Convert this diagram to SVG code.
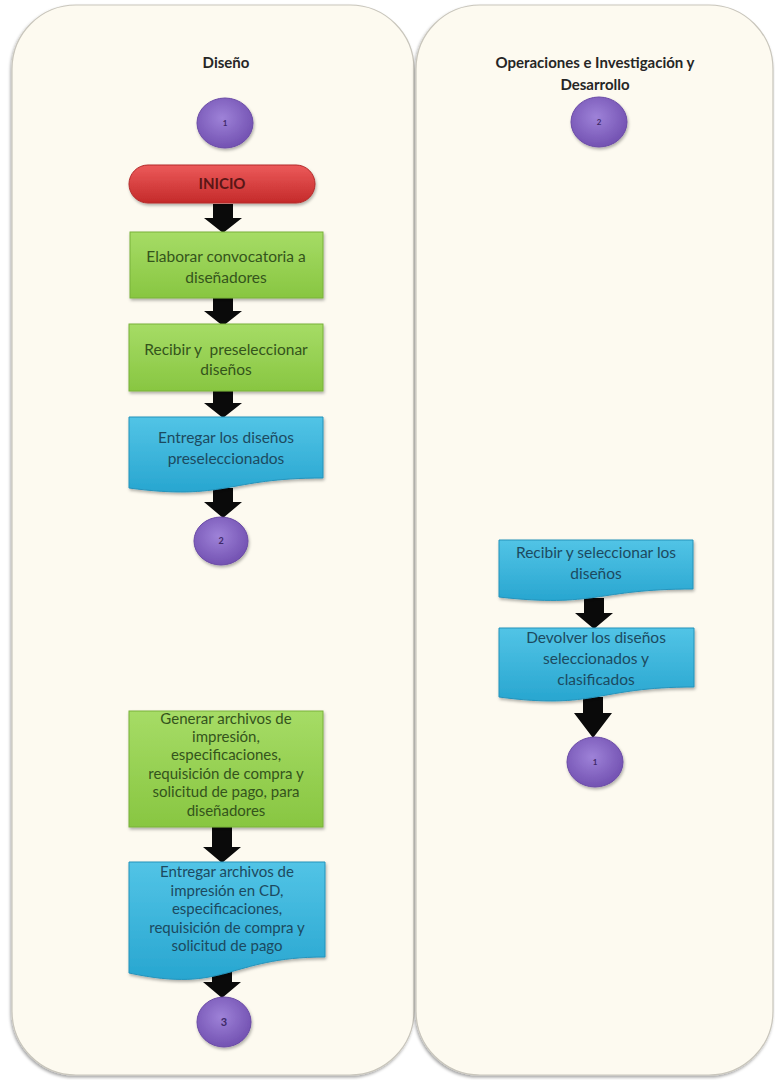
<svg xmlns="http://www.w3.org/2000/svg" width="775" height="1080" viewBox="0 0 775 1080">
<defs>
<linearGradient id="gGreen" x1="0" y1="0" x2="0" y2="1"><stop offset="0" stop-color="#a6dc66"/><stop offset="1" stop-color="#88c641"/></linearGradient>
<linearGradient id="gBlue" x1="0" y1="0" x2="0" y2="1"><stop offset="0" stop-color="#52c4e6"/><stop offset="1" stop-color="#28a6d0"/></linearGradient>
<linearGradient id="gRed" x1="0" y1="0" x2="0" y2="1"><stop offset="0" stop-color="#ec5a5a"/><stop offset="1" stop-color="#c42a2a"/></linearGradient>
<radialGradient id="gPurple" cx="0.45" cy="0.4" r="0.6"><stop offset="0" stop-color="#9e82d8"/><stop offset="1" stop-color="#7352b2"/></radialGradient>
<filter id="laneShadow" x="-5%" y="-5%" width="110%" height="110%"><feDropShadow dx="-1" dy="2" stdDeviation="1.5" flood-color="#000" flood-opacity="0.35"/></filter>
<filter id="shapeShadow" x="-10%" y="-10%" width="120%" height="130%"><feDropShadow dx="1" dy="2" stdDeviation="1.5" flood-color="#000" flood-opacity="0.3"/></filter>
</defs>
<style>
.lane{fill:#fdfaf0;stroke:#c9c6bc;stroke-width:1.2;filter:url(#laneShadow)}
.title{font-family:Lato,"Liberation Sans",sans-serif;font-weight:bold;font-size:15px;fill:#262626;text-anchor:middle}
.green{fill:url(#gGreen);stroke:#79b23a;stroke-width:1;filter:url(#shapeShadow)}
.blue{fill:url(#gBlue);stroke:#2593bb;stroke-width:1;filter:url(#shapeShadow)}
.red{fill:url(#gRed);stroke:#b32a2a;stroke-width:1;filter:url(#shapeShadow)}
.circ{fill:url(#gPurple);stroke:#6a4aa6;stroke-width:1;filter:url(#shapeShadow)}
.t{font-family:Lato,"Liberation Sans",sans-serif;font-size:15.5px;text-anchor:middle}
.ts{font-family:Lato,"Liberation Sans",sans-serif;font-size:15px;text-anchor:middle}
.tg{fill:#34541c}
.tb{fill:#1c4a60}
.tr{fill:#5a1616;font-family:Lato,"Liberation Sans",sans-serif;font-weight:bold;font-size:15px;text-anchor:middle}
.num{font-family:Lato,"Liberation Sans",sans-serif;font-weight:bold;fill:#3e2968;text-anchor:middle}
.arrow{fill:#0a0a0a}
</style>

<g id="lane-diseno">
<rect class="lane" x="12" y="5" width="402" height="1070" rx="64" ry="64"/>
<text class="title" x="226" y="68">Diseño</text>
</g>
<g id="lane-operaciones">
<rect class="lane" x="416" y="5" width="357" height="1070" rx="64" ry="64"/>
<text class="title" x="595" y="68">Operaciones e Investigación y</text>
<text class="title" x="595" y="90">Desarrollo</text>
</g>

<g id="connectors">
<path class="arrow" d="M213,204 H233 V218 H242 L223,233 L204,218 H213 Z"/>
<path class="arrow" d="M213,298 H233 V311 H242 L223,326 L204,311 H213 Z"/>
<path class="arrow" d="M213,391 H233 V403 H242 L223,418 L204,403 H213 Z"/>
<path class="arrow" d="M213,488 H233 V502 H242 L223,518 L204,502 H213 Z"/>
<path class="arrow" d="M212,827 H232 V847 H241 L222,863 L203,847 H212 Z"/>
<path class="arrow" d="M212,965 H232 V982 H241 L222,998 L203,982 H212 Z"/>
<path class="arrow" d="M584,598 H604 V613 H613 L594,629 L575,613 H584 Z"/>
<path class="arrow" d="M583,697 H603 V713 H612 L593,738 L574,713 H583 Z"/>
</g>

<g id="c1-top">
<ellipse class="circ" cx="225" cy="123" rx="28" ry="25"/>
<text class="num" x="225" y="126" font-size="8">1</text>
</g>
<g id="inicio">
<rect class="red" x="129" y="165" width="186" height="38" rx="19" ry="19"/>
<text class="tr" x="222" y="189">INICIO</text>
</g>
<g id="elaborar">
<rect class="green" x="130" y="232" width="193" height="66"/>
<text class="t tg" x="226" y="262">Elaborar convocatoria a</text>
<text class="t tg" x="226" y="283">diseñadores</text>
</g>
<g id="recibir-pre">
<rect class="green" x="129" y="324" width="194" height="67"/>
<text class="t tg" x="226" y="355" xml:space="preserve">Recibir y  preseleccionar</text>
<text class="t tg" x="226" y="375">diseños</text>
</g>
<g id="entregar-pre">
<path class="blue" d="M129,417 H323 V478 C226,478 226,501 129,488 Z"/>
<text class="t tb" x="226" y="443">Entregar los diseños</text>
<text class="t tb" x="226" y="464">preseleccionados</text>
</g>
<g id="c2-left">
<ellipse class="circ" cx="221" cy="541" rx="27" ry="24"/>
<text class="num" x="221" y="544" font-size="9">2</text>
</g>
<g id="generar">
<rect class="green" x="129" y="711" width="194" height="116"/>
<text class="ts tg" x="226" y="724">Generar archivos de</text>
<text class="ts tg" x="226" y="742">impresión,</text>
<text class="ts tg" x="226" y="760">especificaciones,</text>
<text class="ts tg" x="226" y="779">requisición de compra y</text>
<text class="ts tg" x="226" y="797">solicitud de pago, para</text>
<text class="ts tg" x="226" y="816">diseñadores</text>
</g>
<g id="entregar-cd">
<path class="blue" d="M129,862 H325 V957 C227,957 227,994 129,973 Z"/>
<text class="ts tb" x="227" y="877">Entregar archivos de</text>
<text class="ts tb" x="227" y="896">impresión en CD,</text>
<text class="ts tb" x="227" y="914">especificaciones,</text>
<text class="ts tb" x="227" y="933">requisición de compra y</text>
<text class="ts tb" x="227" y="951">solicitud de pago</text>
</g>
<g id="c3">
<ellipse class="circ" cx="224" cy="1022" rx="27" ry="25"/>
<text class="num" x="224" y="1026" font-size="11">3</text>
</g>

<g id="c2-right">
<ellipse class="circ" cx="599" cy="122" rx="28" ry="25"/>
<text class="num" x="599" y="125" font-size="8">2</text>
</g>
<g id="recibir-sel">
<path class="blue" d="M499,540 H693 V589 C596,589 596,608 499,597 Z"/>
<text class="t tb" x="596" y="558">Recibir y seleccionar los</text>
<text class="t tb" x="596" y="579">diseños</text>
</g>
<g id="devolver">
<path class="blue" d="M499,628 H694 V687 C596,687 596,710 499,697 Z"/>
<text class="t tb" x="596" y="643">Devolver los diseños</text>
<text class="t tb" x="596" y="664">seleccionados y</text>
<text class="t tb" x="596" y="685">clasificados</text>
</g>
<g id="c1-right">
<ellipse class="circ" cx="595" cy="762" rx="28" ry="25"/>
<text class="num" x="595" y="765" font-size="8">1</text>
</g>
</svg>
